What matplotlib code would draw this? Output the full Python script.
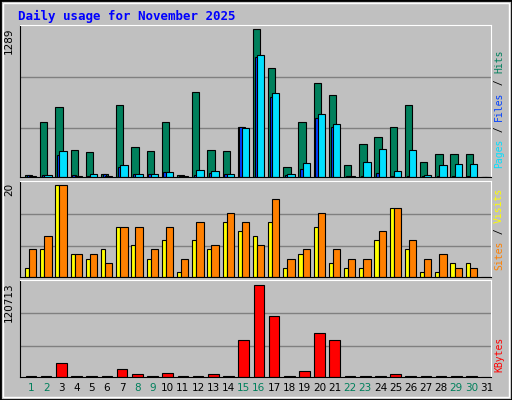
import matplotlib
matplotlib.use("Agg")
import matplotlib.pyplot as plt
from matplotlib.patches import Rectangle

# ── Data ─────────────────────────────────────────────────────────────────────
days = list(range(1, 32))
hits = [20, 481, 612, 239, 222, 29, 624, 257, 230, 481, 20, 738, 239, 230, 432,
        1289, 948, 90, 481, 817, 712, 108, 283, 344, 432, 624, 134, 204, 204, 204, 0]
files = [20, 15, 190, 20, 5, 29, 90, 23, 23, 47, 12, 15, 32, 23, 432,
         1044, 694, 15, 73, 510, 432, 6, 6, 32, 6, 6, 6, 6, 6, 6, 0]
pages = [12, 20, 230, 12, 29, 12, 108, 29, 29, 47, 12, 64, 55, 29, 423,
         1062, 729, 29, 125, 545, 458, 12, 134, 248, 55, 239, 20, 108, 117, 117, 0]
visits = [2, 6, 20, 5, 4, 6, 11, 7, 4, 8, 1, 8, 6, 12, 10,
          9, 12, 2, 5, 11, 3, 2, 2, 8, 15, 6, 1, 1, 3, 3, 0]
sites = [6, 9, 20, 5, 5, 3, 11, 11, 6, 11, 4, 12, 7, 14, 12,
         7, 17, 4, 6, 14, 6, 4, 4, 10, 15, 8, 4, 5, 2, 2, 0]
kbytes = [900, 900, 18944, 900, 900, 900, 11000, 3500, 900, 5700, 900, 900, 3500, 900, 49300,
          120713, 79700, 900, 8400, 58600, 49300, 900, 900, 900, 3500, 900, 900, 900, 900, 900, 0]
weekends = {1, 2, 8, 9, 15, 16, 22, 23, 29, 30}

BG = "#C0C0C0"
GRID = "#808080"
C_HITS, C_FILES, C_PAGES = "#00805C", "#0040FF", "#00E0FF"
C_VISITS, C_SITES, C_KB = "#FFFF00", "#FF8000", "#FF0000"
MONO = "DejaVu Sans Mono"

fig = plt.figure(figsize=(5.12, 4.0), dpi=100, facecolor=BG)
fig.patches.append(Rectangle((0, 0), 1, 1, transform=fig.transFigure, fill=False,
                             edgecolor="black", linewidth=2))
fig.patches.append(Rectangle((0.006, 0.008), 0.988, 0.984, transform=fig.transFigure,
                             fill=False, edgecolor="white", linewidth=1))

fig.text(0.035, 0.96, "Daily usage for November 2025", color="#0000FF",
         fontsize=9, fontweight="bold", family=MONO, va="center")

L, W = 0.039, 0.92


def panel(bottom, height, top_frac, vmax, label):
    ax = fig.add_axes([L, bottom, W, height], facecolor=BG)
    ax.set_xlim(0, 31)
    ymax = vmax / top_frac
    ax.set_ylim(0, ymax)
    for f in (0.32, 0.655):
        ax.axhline(ymax * f, color=GRID, linewidth=1, zorder=0)
    ax.set_xticks([])
    ax.set_yticks([])
    for s in ("left", "bottom"):
        ax.spines[s].set_color("black")
    for s in ("top", "right"):
        ax.spines[s].set_color("white")
    fig.text(L - 0.012, bottom + height - 0.005, label, rotation=90, ha="right",
             va="top", fontsize=7.5, family="DejaVu Sans")
    return ax


def bars(ax, vals, off, width, color):
    x = [d - 1 + off for d in days]
    ax.bar(x, vals, width=width, align="edge", color=color,
           edgecolor="black", linewidth=0.8, zorder=2)


ax1 = panel(0.5575, 0.38, 0.974, max(hits), str(max(hits)))
bars(ax1, hits, 0.33, 0.48, C_HITS)
bars(ax1, files, 0.44, 0.22, C_FILES)
bars(ax1, pages, 0.6, 0.48, C_PAGES)

ax2 = panel(0.3075, 0.24, 0.955, max(sites), str(max(sites)))
bars(ax2, visits, 0.33, 0.27, C_VISITS)
bars(ax2, sites, 0.6, 0.48, C_SITES)

ax3 = panel(0.0575, 0.2425, 0.945, max(kbytes), str(max(kbytes)))
bars(ax3, kbytes, 0.37, 0.7, C_KB)

# day labels
for d in days:
    ax3.text(d - 1 + 0.72, -0.06, str(d), transform=ax3.get_xaxis_transform(),
             ha="center", va="top", fontsize=7.5,
             color=C_HITS if d in weekends else "black")


# right-side legends (stacked rotated text pieces, bottom to top)
CH = 0.0148  # height of one mono character at 7pt, in figure fraction


def legend(parts, y0):
    y = y0
    for txt, col in parts:
        fig.text(0.975, y, txt, rotation=90, ha="center", va="bottom",
                 fontsize=7, family=MONO, color=col)
        y += len(txt) * CH


legend([("Pages", C_PAGES), (" / ", "black"), ("Files", C_FILES), (" / ", "black"),
        ("Hits", C_HITS)], 0.58)
legend([("Sites", C_SITES), (" / ", "black"), ("Visits", C_VISITS)], 0.325)
legend([("KBytes", C_KB)], 0.07)

fig.savefig("out.png", dpi=100, facecolor=BG)
